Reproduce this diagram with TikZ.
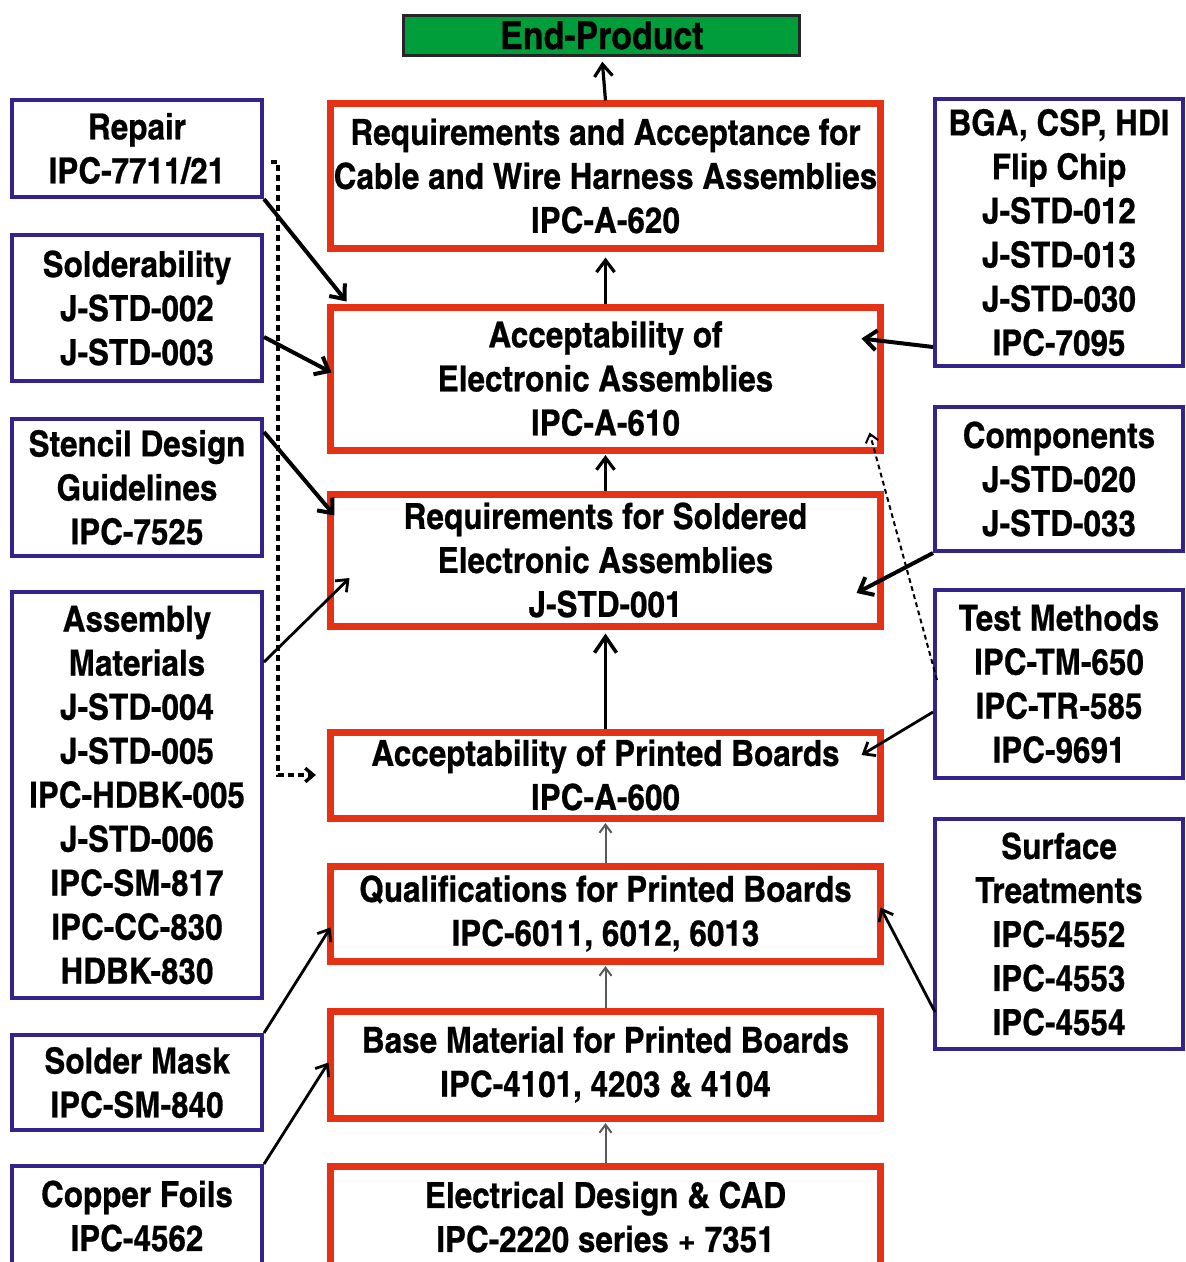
\documentclass[tikz,border=0pt]{standalone}
\usepackage{fontspec}
\usepackage{tikz}
\usetikzlibrary{arrows.meta, positioning, calc}
\newfontfamily\diagfont{texgyreheroscn-bold.otf}[FakeStretch=1.07, FakeBold=0.6]
\definecolor{stdred}{RGB}{230,50,20}
\definecolor{refblue}{RGB}{50,36,140}
\definecolor{productgreen}{RGB}{0,158,58}

\begin{document}
\begin{tikzpicture}[x=0.25mm, y=-0.25mm,
    % Styles
    box text/.style={font=\diagfont\fontsize{25.5}{31.3}\selectfont, align=center, inner sep=0},
    std box/.style={box text, draw=stdred, line width=1.75mm, minimum width=137.25mm},
    ref box/.style={box text, draw=refblue, line width=1mm},
    left box/.style={ref box, minimum width=62.5mm},
    right box/.style={ref box, minimum width=62mm},
    product box/.style={box text, font=\diagfont\fontsize{27.5}{31.3}\selectfont, draw=black!85, fill=productgreen, line width=0.75mm, minimum width=99mm, minimum height=10mm},
    flow arrow/.style={-{Straight Barb[length=3mm, width=4.5mm]}, line width=0.8mm},
    big arrow/.style={-{Straight Barb[length=4mm, width=5.5mm]}, line width=0.9mm},
    thin arrow/.style={-{Straight Barb[length=2mm, width=3mm]}, line width=0.5mm, black!65},
    feed arrow/.style={-{Straight Barb[length=3mm, width=5mm]}, line width=1mm},
    light feed/.style={-{Straight Barb[length=2.5mm, width=4mm]}, line width=0.7mm},
    dash link/.style={-{Straight Barb[length=2mm, width=3.4mm]}, line width=0.85mm, dash pattern=on 1.5mm off 1mm},
    fine dash/.style={-{Straight Barb[length=2mm, width=3.2mm]}, line width=0.5mm, dash pattern=on 1.2mm off 0.9mm},
]
    \useasboundingbox (0,0) rectangle (1186,1262);

    % === Centre chain of standards ===
    \node[std box, minimum height=36mm] (std-620) at (605.5,176)
        {Requirements and Acceptance for\\Cable and Wire Harness Assemblies\\IPC-A-620};
    \node[std box, minimum height=35.75mm, below=13mm of std-620] (std-610)
        {Acceptability of\\Electronic Assemblies\\IPC-A-610};
    \node[std box, minimum height=33mm, below=9.25mm of std-610] (std-001)
        {Requirements for Soldered\\Electronic Assemblies\\J-STD-001};
    \node[std box, minimum height=21.5mm, below=24.75mm of std-001] (std-600)
        {Acceptability of Printed Boards\\IPC-A-600};
    \node[std box, minimum height=23.75mm, below=10.25mm of std-600] (std-6011)
        {Qualifications for Printed Boards\\IPC-6011, 6012, 6013};
    \node[std box, minimum height=26.75mm, below=10.75mm of std-6011] (std-4101)
        {Base Material for Printed Boards\\IPC-4101, 4203 \& 4104};
    \node[std box, minimum height=25.5mm, below=10.25mm of std-4101] (std-2220)
        {Electrical Design \& CAD\\IPC-2220 series + 7351};

    % End product on top
    \node[product box, above=10.9mm of std-620, xshift=-0.9mm] (end-product) {End-Product};

    % === Left column ===
    \node[left box, minimum height=24.25mm] (repair) at (137,148.5) {Repair\\IPC-7711/21};
    \node[left box, minimum height=36.5mm, below=8.5mm of repair] (solderability)
        {Solderability\\J-STD-002\\J-STD-003};
    \node[left box, minimum height=34.25mm, below=8.5mm of solderability] (stencil)
        {Stencil Design\\Guidelines\\IPC-7525};
    \node[left box, minimum height=101.5mm, below=8mm of stencil] (assembly)
        {Assembly\\Materials\\J-STD-004\\J-STD-005\\IPC-HDBK-005\\J-STD-006\\IPC-SM-817\\IPC-CC-830\\HDBK-830};
    \node[left box, minimum height=23.75mm, below=8.25mm of assembly] (solder-mask)
        {Solder Mask\\IPC-SM-840};
    \node[left box, minimum height=25mm, below=8mm of solder-mask] (copper-foils)
        {Copper Foils\\IPC-4562};

    % === Right column ===
    \node[right box, minimum height=66.75mm] (bga) at (1059,232.5)
        {BGA, CSP, HDI\\Flip Chip\\J-STD-012\\J-STD-013\\J-STD-030\\IPC-7095};
    \node[right box, minimum height=36mm, below=9.25mm of bga] (components)
        {Components\\J-STD-020\\J-STD-033};
    \node[right box, minimum height=47mm, below=8.75mm of components] (test-methods)
        {Test Methods\\IPC-TM-650\\IPC-TR-585\\IPC-9691};
    \node[right box, minimum height=57.5mm, below=9.25mm of test-methods] (surface)
        {Surface\\Treatments\\IPC-4552\\IPC-4553\\IPC-4554};

    % === Upward flow ===
    \draw[flow arrow, shorten >=1.2mm] (std-620.north) -- (end-product.south);
    \draw[flow arrow, shorten >=1.5mm] (std-610.north) -- (std-620.south);
    \draw[flow arrow, shorten >=0.4mm] (std-001.north) -- (std-610.south);
    \draw[big arrow, shorten >=1mm] (std-600.north) -- (std-001.south);
    \draw[thin arrow, shorten >=0.4mm] (std-6011.north) -- (std-600.south);
    \draw[thin arrow, shorten >=0.4mm] (std-4101.north) -- (std-6011.south);
    \draw[thin arrow, shorten >=0.4mm] (std-2220.north) -- (std-4101.south);

    % Left feeds
    \draw[feed arrow] (repair.south east) -- ($(std-610.north west)+(19,-2)$);
    \draw[feed arrow] ($(solderability.east)+(0,29)$) -- ($(std-610.west)+(4,-6)$);
    \draw[feed arrow] ($(stencil.north east)+(0,15)$) -- ($(std-001.north west)+(7,25)$);
    \draw[light feed] ($(assembly.north east)+(0,72)$) -- ($(std-001.west)+(22,18)$);
    \draw[light feed] (solder-mask.north east) -- ($(std-6011.west)+(3,14)$);
    \draw[light feed] (copper-foils.north east) -- ($(std-4101.west)+(1,-2)$);

    % Repair also feeds the board acceptability (dashed)
    \coordinate (repair-tap) at ($(repair.east)+(7,13.5)$);
    \coordinate (repair-drop) at ($(repair-tap)+(7,0)$);
    \draw[dash link, shorten >=2.9mm] (repair-tap) -- (repair-drop) |- (std-600.west);

    % Right feeds
    \draw[feed arrow] ($(bga.south west)+(0,-21)$) -- ($(std-610.east)+(-22,-40)$);
    \draw[feed arrow] (components.south west) -- ($(std-001.east)+(-27,33)$);
    \draw[light feed] ($(test-methods.west)+(0,28)$) -- ($(std-600.east)+(-22,-20)$);
    \draw[fine dash] ($(test-methods.west)+(4,-4)$) -- ($(std-610.south east)+(-14,-21)$);
    \draw[light feed] ($(surface.south west)+(2,-39)$) -- ($(std-6011.east)+(-3,-6)$);
\end{tikzpicture}
\end{document}
